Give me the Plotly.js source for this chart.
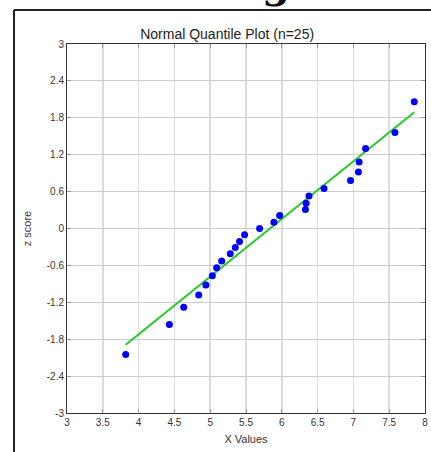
<!DOCTYPE html>
<html>
<head>
<meta charset="utf-8">
<script src="https://cdn.plot.ly/plotly-3.0.1.min.js"></script>
<style>html,body{margin:0;padding:0;background:#fff;}#chart{width:431px;height:452px;}</style>
</head>
<body>
<div id="chart"></div>
<script>
// Data
var xValues = [3.82, 4.43, 4.63, 4.84, 4.94, 5.03, 5.09, 5.16, 5.28, 5.35, 5.41, 5.48, 5.69,
               5.89, 5.97, 6.33, 6.34, 6.38, 6.59, 6.96, 7.07, 7.08, 7.17, 7.58, 7.85];
var zScores = [-2.05, -1.56, -1.28, -1.08, -0.92, -0.77, -0.64, -0.53, -0.41, -0.31, -0.21, -0.10, 0.00,
               0.10, 0.21, 0.31, 0.41, 0.53, 0.65, 0.78, 0.92, 1.08, 1.30, 1.56, 2.06];
var fitX = [3.82, 7.85];
var fitZ = [-1.89, 1.89];
var xTicks = [3, 3.5, 4, 4.5, 5, 5.5, 6, 6.5, 7, 7.5, 8];
var xTickLabels = ["3", "3.5", "4", "4.5", "5", "5.5", "6", "6.5", "7", "7.5", "8"];
var yTicks = [-3, -2.4, -1.8, -1.2, -0.6, 0, 0.6, 1.2, 1.8, 2.4, 3];
var yTickLabels = ["-3", "-2.4", "-1.8", "-1.2", "-0.6", "0", "0.6", "1.2", "1.8", "2.4", "3"];
var chartTitle = "Normal Quantile Plot (n=25)";

var traces = [
  {x: fitX, y: fitZ, type: 'scatter', mode: 'lines',
   line: {color: '#22cc22', width: 2}, hoverinfo: 'skip'},
  {x: xValues, y: zScores, type: 'scatter', mode: 'markers',
   marker: {color: '#0000ff', size: 7}}
];

var fam = 'Liberation Sans, Arial, sans-serif';
var layout = {
  width: 431, height: 452,
  margin: {l: 67, r: 6, t: 44, b: 39, pad: 0},
  paper_bgcolor: '#fff', plot_bgcolor: '#fff',
  showlegend: false,
  title: {text: chartTitle, x: 0.527, xanchor: 'center', y: 0.925, yanchor: 'middle',
          font: {family: fam, size: 14, color: '#222'}},
  xaxis: {
    range: [3, 8], tickvals: xTicks, ticktext: xTickLabels,
    showgrid: true, gridcolor: '#dcdcdc', gridwidth: 1.5,
    showline: true, linecolor: '#333', linewidth: 1, mirror: 'ticks',
    ticks: 'inside', ticklen: 4, tickcolor: '#999', tickwidth: 1,
    tickfont: {family: fam, size: 10, color: '#333'},
    zeroline: false,
    title: {text: 'X Values', standoff: 8, font: {family: fam, size: 11, color: '#333'}}
  },
  yaxis: {
    range: [-3, 3], tickvals: yTicks, ticktext: yTickLabels,
    showgrid: true, gridcolor: '#cccccc', gridwidth: 1,
    showline: true, linecolor: '#333', linewidth: 1, mirror: 'ticks',
    ticks: 'inside', ticklen: 4, tickcolor: '#999', tickwidth: 1,
    tickfont: {family: fam, size: 10, color: '#333'},
    zeroline: false,
    title: {text: 'z score', standoff: 12, font: {family: fam, size: 11, color: '#333'}}
  },
  shapes: [
    {type: 'line', xref: 'paper', yref: 'paper', x0: -0.148, x1: -0.148, y0: -0.11, y1: 1.092,
     line: {color: '#222', width: 2}},
    {type: 'line', xref: 'paper', yref: 'paper', x0: -0.148, x1: 1.02, y0: 1.092, y1: 1.092,
     line: {color: '#222', width: 2}}
  ],
  annotations: [
    {text: '<b>g</b>', xref: 'paper', yref: 'paper', x: 0.585, y: 1.165, xanchor: 'center', yanchor: 'middle',
     showarrow: false, font: {family: 'DejaVu Serif, serif', size: 40, color: '#111'}}
  ]
};

Plotly.newPlot('chart', traces, layout, {displayModeBar: false, staticPlot: true});
</script>
</body>
</html>
